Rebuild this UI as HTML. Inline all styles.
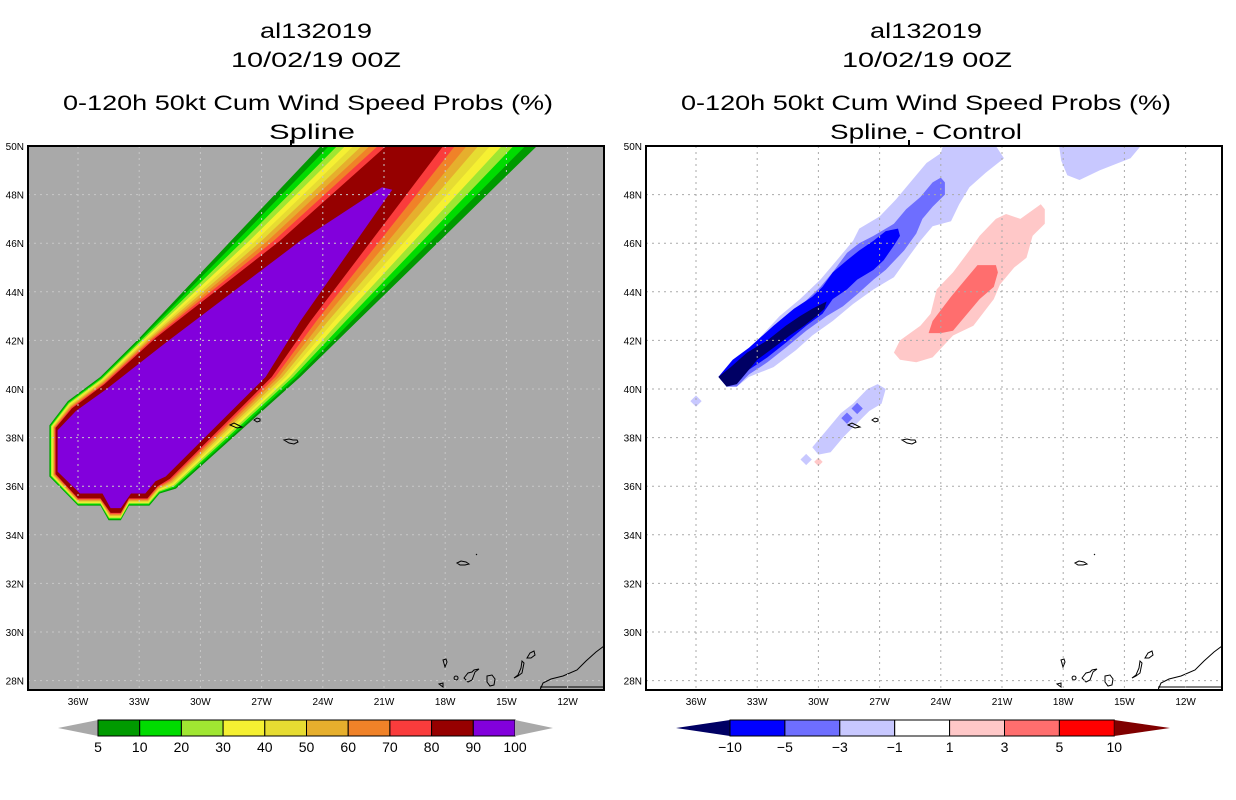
<!DOCTYPE html>
<html><head><meta charset="utf-8">
<style>
html,body{margin:0;padding:0;background:#fff;width:1236px;height:800px;overflow:hidden}
svg{display:block}
text{font-family:"Liberation Sans",sans-serif;fill:#000}
</style></head>
<body>
<svg id="chart" width="1236" height="800" viewBox="0 0 1236 800" xmlns="http://www.w3.org/2000/svg">
<defs>
<clipPath id="clipL"><rect x="28" y="146" width="576" height="544"/></clipPath>
<clipPath id="clipR"><rect x="646" y="146" width="576" height="544"/></clipPath>
</defs>
<g>
<text x="316" y="38" text-anchor="middle" font-size="21" textLength="112" lengthAdjust="spacingAndGlyphs">al132019</text>
<text x="316" y="67" text-anchor="middle" font-size="21" textLength="170" lengthAdjust="spacingAndGlyphs">10/02/19 00Z</text>
<text x="308" y="110" text-anchor="middle" font-size="21" textLength="490" lengthAdjust="spacingAndGlyphs">0-120h 50kt Cum Wind Speed Probs (%)</text>
<text x="312" y="139" text-anchor="middle" font-size="21" textLength="86" lengthAdjust="spacingAndGlyphs">Spline</text>
</g>
<g>
<text x="926" y="38" text-anchor="middle" font-size="21" textLength="112" lengthAdjust="spacingAndGlyphs">al132019</text>
<text x="927" y="67" text-anchor="middle" font-size="21" textLength="170" lengthAdjust="spacingAndGlyphs">10/02/19 00Z</text>
<text x="926" y="110" text-anchor="middle" font-size="21" textLength="490" lengthAdjust="spacingAndGlyphs">0-120h 50kt Cum Wind Speed Probs (%)</text>
<text x="926" y="139" text-anchor="middle" font-size="21" textLength="192" lengthAdjust="spacingAndGlyphs">Spline - Control</text>
</g>
<g id="left"></g>
<g id="right"></g>
<g id="cbL"></g>
<g id="cbR"></g>
</svg>
<script>
// ---- data (lon in degrees W, lat in degrees N) ----
const lonTicks = [36,33,30,27,24,21,18,15,12];
const latTicks = [50,48,46,44,42,40,38,36,34,32,30,28];
// left panel contour polygons
const outerLon = [24.1,13.5,22.3,25.1,31.2,32.0,32.5,33.5,33.9,34.5,34.9,36.0,37.4,37.4,36.5,34.9,33.1,28.5];
const outerLat = [50.0,50.0,42.8,40.5,35.9,35.7,35.2,35.2,34.6,34.6,35.2,35.2,36.4,38.5,39.5,40.5,42.0,46.1];
const p80Lon = [20.9,18.1,24.6,26.5,31.5,32.1,32.6,33.5,33.9,34.4,34.9,36.0,37.1,37.1,36.3,34.7,32.2,26.1];
const p80Lat = [50.0,50.0,42.8,40.5,36.3,36.0,35.5,35.5,34.9,34.9,35.5,35.5,36.5,38.4,39.2,40.2,42.1,46.1];
const p90Lon = [21.1,20.6,25.1,26.8,31.7,32.2,32.7,33.4,33.9,34.4,34.8,35.9,37.0,37.0,36.1,34.6,31.7,25.1];
const p90Lat = [48.3,48.2,42.8,40.5,36.4,36.2,35.7,35.7,35.1,35.1,35.7,35.7,36.6,38.3,39.1,40.0,41.9,46.1];
const probLevels = [5,10,20,30,40,50,60,70,80,90,100];
const probColors = ["#009a00","#00dc00","#a0e632","#f5f032","#e6dc32","#e6af2d","#f08228","#fa3c3c","#960000","#8200dc"];
const bandFrac = [0,0.125,0.25,0.375,0.5,0.625,0.75,0.875];
// right panel difference contours
const lb1Lon=[34.9,33.8,33.0,31.9,30.9,29.9,29.1,28.3,28.0,27.0,26.2,25.4,24.7,24.0,23.9,21.3,20.9,21.8,22.6,23.1,23.5,24.4,25.0,25.7,26.3,27.3,28.3,29.3,30.3,31.1,32.2,33.4,34.0,34.5];
const lb1Lat=[40.5,41.3,42.0,43.0,43.7,44.5,45.3,46.1,46.6,47.1,47.8,48.6,49.3,49.7,50.0,50.0,49.5,48.9,48.3,47.6,46.9,46.7,46.1,45.3,44.6,44.1,43.5,42.8,42.2,41.6,40.9,40.5,40.1,40.1];
const lb2Lon=[18.2,14.2,14.7,16.2,17.2,17.8,18.1];
const lb2Lat=[50.0,50.0,49.5,49.0,48.6,48.8,49.4];
const lb3Lon=[30.3,29.6,28.9,28.3,27.6,27.1,26.7,26.9,27.5,28.1,28.8,29.4,30.0];
const lb3Lat=[37.6,38.3,39.0,39.4,40.0,40.2,40.0,39.4,39.1,38.6,38.0,37.4,37.3];
const mbLon=[34.8,34.0,33.0,31.9,30.9,29.9,29.3,28.6,28.0,27.3,26.3,25.7,25.0,24.4,24.0,23.8,23.8,24.4,24.9,25.2,25.8,26.7,27.3,28.1,28.8,29.6,30.6,31.6,32.5,33.4,34.0,34.5];
const mbLat=[40.5,41.2,41.9,42.7,43.4,44.2,44.8,45.6,46.0,46.3,46.8,47.4,47.9,48.5,48.7,48.5,48.0,47.5,47.0,46.4,45.7,44.9,44.5,43.9,43.4,43.0,42.4,41.7,41.1,40.6,40.1,40.1];
const bLon=[34.9,34.2,33.4,32.2,31.2,30.3,29.8,29.3,28.6,28.0,27.3,26.7,26.1,26.0,26.3,26.8,27.3,28.1,28.6,29.3,29.8,30.6,31.6,32.5,33.4,33.8,34.5];
const bLat=[40.5,41.2,41.7,42.6,43.3,43.8,44.2,44.8,45.3,45.7,46.1,46.5,46.6,46.3,45.9,45.3,44.9,44.5,44.1,43.7,43.1,42.6,41.9,41.3,40.8,40.4,40.1];
const nvLon=[34.9,34.3,33.5,32.5,31.6,30.9,30.3,29.6,29.7,30.1,30.7,31.4,32.2,33.0,33.8,34.0,34.5];
const nvLat=[40.5,40.9,41.5,42.0,42.6,43.0,43.3,43.6,43.3,43.0,42.6,42.2,41.7,41.2,40.4,40.2,40.1];
const pkLon=[26.3,26.0,25.0,24.5,24.2,23.4,22.6,22.1,21.3,20.8,20.1,19.1,18.9,18.9,19.5,19.8,20.4,21.1,21.4,22.4,23.4,24.4,25.2,26.0];
const pkLat=[41.5,42.0,42.6,43.1,44.1,44.8,45.7,46.3,47.0,47.2,47.0,47.6,47.4,46.8,46.3,45.4,45.0,44.3,43.7,42.6,42.2,41.3,41.1,41.2];
const slLon=[24.6,24.4,23.5,22.7,22.2,21.3,21.2,21.4,22.1,22.7,23.4,24.0];
const slLat=[42.3,42.8,43.8,44.6,45.1,45.1,44.8,44.2,43.7,43.1,42.4,42.3];
const diffLevels=["-10","-5","-3","-1","1","3","5","10"];
const diffColors=["#000064","#0000ff","#6e6eff","#c8c8ff","#ffffff","#ffc8c8","#ff6e6e","#ff0000","#800000"];

const NS="http://www.w3.org/2000/svg";
function mk(tag,attrs,parent){const e=document.createElementNS(NS,tag);for(const k in attrs)e.setAttribute(k,attrs[k]);parent.appendChild(e);return e;}
function X(ox,lon){return ox+78+(36-lon)*20.4;}
function Y(lat){return 146+(50-lat)*24.3;}
function pts(ox,lons,lats){return lons.map((l,i)=>X(ox,l).toFixed(1)+","+Y(lats[i]).toFixed(1)).join(" ");}

function drawPanel(g,ox,bg,gridCol,clip){
  const bgr=mk("rect",{x:ox+28,y:146,width:576,height:544,fill:bg},g);
  
  
  const cg=mk("g",{"clip-path":"url(#"+clip+")"},g);
  return cg;
}
function drawFrame(g,ox,gridCol){
  lonTicks.forEach(l=>{
    const x=X(ox,l);
    const gl=mk("line",{x1:x,y1:146,x2:x,y2:690,stroke:gridCol,"stroke-width":1,"stroke-dasharray":"2,4"},g);
    
    
    const t=mk("text",{x:x,y:705,"text-anchor":"middle","font-size":10},g);
    t.textContent=l+"W";
    
    
  });
  latTicks.forEach(l=>{
    const y=Y(l);
    if(l<50){const gl=mk("line",{x1:ox+28,y1:y,x2:ox+604,y2:y,stroke:gridCol,"stroke-width":1,"stroke-dasharray":"2,4"},g);
    
    }
    const t=mk("text",{x:ox+24,y:y+4,"text-anchor":"end","font-size":10},g);
    t.textContent=l+"N";
    
    
  });
  const b=mk("rect",{x:ox+28,y:146,width:576,height:544,fill:"none",stroke:"#000","stroke-width":2},g);
  
  
  mk("rect",{x:ox+290,y:140,width:2,height:6,fill:"#000"},g);
}
function drawLand(g,ox){
  const s={fill:"none",stroke:"#000","stroke-width":1};
  const land=mk("g",{},g);
  
  
  const p=(d)=>mk("path",Object.assign({d:d},s),land);
  const o=ox;
  p(`M${o+230},425 l4,-2 4,2 4,2 -5,1 z`);
  p(`M${o+254},420 l3,-2 3,1 0,2 -3,1 z`);
  p(`M${o+284},440 l5,-1 4,1 4,0 1,2 -4,2 -5,-1 z`);
  p(`M${o+457},563 l4,-2 5,1 3,2 -4,1 -5,0 z`);
  p(`M${o+476},555 l1,-1`);
  p(`M${o+443},660 l3,-1 1,3 -2,5 z`);
  p(`M${o+439},684 l4,-1 0,4 z`);
  p(`M${o+456},676 a2,2 0 1,0 0.1,0`);
  p(`M${o+464},678 l4,-5 4,-1 2,-2 5,-1 -4,3 -3,8 -4,2 z`);
  p(`M${o+487},676 l5,-1 3,4 -1,6 -4,1 -3,-4 z`);
  p(`M${o+514},678 l4,-3 3,-7 1,-7 2,2 -2,10 -4,3 z`);
  p(`M${o+527},658 l3,-5 4,-2 1,4 -4,3 z`);
  p(`M${o+540},690 l3,-7 8,-4 12,-3 14,-6 9,-9 10,-9 8,-6`);
  p(`M${o+540},687 L${o+604},687`);
}

// ---------- LEFT PANEL ----------
const gL=document.getElementById("left");
const cL=drawPanel(gL,0,"#a9a9a9","#c8c8c8","clipL");
bandFrac.forEach((t,i)=>{
  const lons=outerLon.map((v,k)=>v+(p80Lon[k]-v)*t);
  const lats=outerLat.map((v,k)=>v+(p80Lat[k]-v)*t);
  const pg=mk("polygon",{points:pts(0,lons,lats),fill:probColors[i]},cL);
  
  
});
const pg80=mk("polygon",{points:pts(0,p80Lon,p80Lat),fill:probColors[8]},cL);


const pg90=mk("polygon",{points:pts(0,p90Lon,p90Lat),fill:probColors[9]},cL);


drawLand(cL,0);
drawFrame(gL,0,"#c8c8c8");

// ---------- RIGHT PANEL ----------
const gR=document.getElementById("right");
const cR=drawPanel(gR,618,"#ffffff","#aaaaaa","clipR");
function shape(lons,lats,col,name){
  const e=mk("polygon",{points:pts(618,lons,lats),fill:col},cR);
  
  
}
shape(lb1Lon,lb1Lat,diffColors[3],'diff-contour-minus1-main');
shape(lb2Lon,lb2Lat,diffColors[3],'diff-contour-minus1-north');
shape(lb3Lon,lb3Lat,diffColors[3],'diff-contour-minus1-azores');
shape(mbLon,mbLat,diffColors[2],'diff-contour-minus3');
shape(bLon,bLat,diffColors[1],'diff-contour-minus5');
shape(nvLon,nvLat,diffColors[0],'diff-contour-minus10');
shape(pkLon,pkLat,diffColors[5],'diff-contour-plus1');
shape(slLon,slLat,diffColors[6],'diff-contour-plus3');
// small spots
[[36.0,39.5,3],[30.6,37.1,3],[28.6,38.8,1],[28.1,39.2,1.5]].forEach(s=>{
  const d=mk("rect",{x:X(618,s[0])-4,y:Y(s[1])-4,width:8,height:8,fill:s[2]==3?diffColors[3]:diffColors[2],transform:`rotate(45 ${X(618,s[0])} ${Y(s[1])})`},cR);
  
  
});
const pk2=mk("rect",{x:X(618,30.0)-3,y:Y(37.0)-3,width:6,height:6,fill:diffColors[5],transform:`rotate(45 ${X(618,30.0)} ${Y(37.0)})`},cR);


drawLand(cR,618);
drawFrame(gR,618,"#aaaaaa");

// ---------- COLORBARS ----------
const cbL=document.getElementById("cbL");
const bx0=98,bw=41.7,by=720,bh=16;
mk("polygon",{points:`58,${by+bh/2} ${bx0},${by} ${bx0},${by+bh}`,fill:"#a9a9a9"},cbL);
probColors.forEach((c,i)=>{
  const r=mk("rect",{x:bx0+i*bw,y:by,width:bw,height:bh,fill:c,stroke:"#000","stroke-width":1},cbL);
  
  
});
mk("polygon",{points:`${bx0+10*bw},${by} ${bx0+10*bw},${by+bh} 553,${by+bh/2}`,fill:"#a9a9a9"},cbL);
probLevels.forEach((v,i)=>{
  const t=mk("text",{x:bx0+i*bw,y:752,"text-anchor":"middle","font-size":14},cbL);
  t.textContent=v;
  
  
});
const cbR=document.getElementById("cbR");
const rx0=730,rw=54.9;
mk("polygon",{points:`676,${by+bh/2} ${rx0},${by} ${rx0},${by+bh}`,fill:diffColors[0]},cbR);
for(let i=1;i<8;i++){
  const r=mk("rect",{x:rx0+(i-1)*rw,y:by,width:rw,height:bh,fill:diffColors[i],stroke:"#000","stroke-width":1},cbR);
  
  
}
mk("polygon",{points:`${rx0+7*rw},${by} ${rx0+7*rw},${by+bh} 1170,${by+bh/2}`,fill:diffColors[8]},cbR);
diffLevels.forEach((v,i)=>{
  const t=mk("text",{x:rx0+i*rw,y:752,"text-anchor":"middle","font-size":14},cbR);
  t.textContent=v.replace("-","\u2212");
  
  
});
</script>
</body></html>
